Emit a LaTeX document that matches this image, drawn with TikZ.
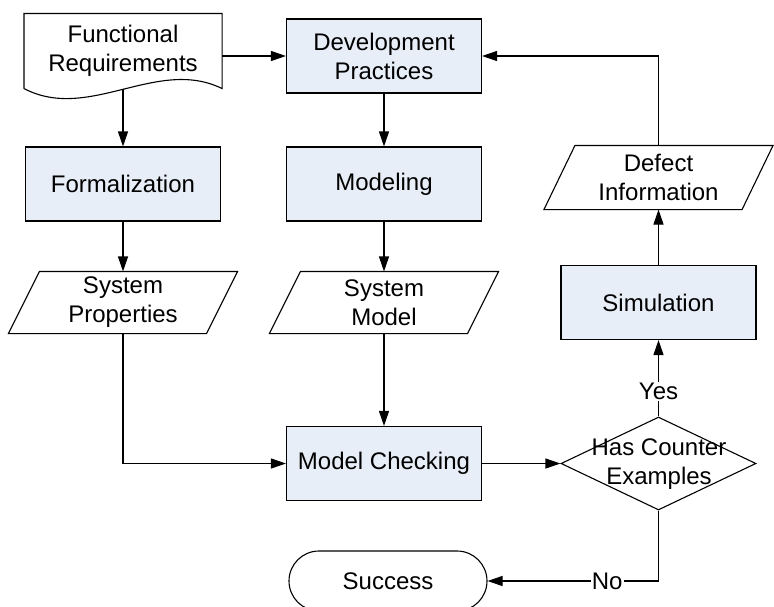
\documentclass[tikz,border=0pt]{standalone}
\usepackage{fontspec}
\setmainfont{Liberation Sans}
\usetikzlibrary{arrows.meta,shapes.geometric,shapes.misc,calc}
\definecolor{procfill}{RGB}{232,238,247}

% slanted outline (data shape) around an invisible rectangular node
\newcommand\ioslant[1]{%
  \draw ($(#1.south west)+(-15.5,0)$) -- ($(#1.south east)+(-15.5,0)$)
     -- ($(#1.north east)+(15.5,0)$) -- ($(#1.north west)+(15.5,0)$) -- cycle;}

\begin{document}
\begin{tikzpicture}[x=1pt,y=-1pt,line width=1.1pt,
  every node/.style={font=\fontsize{24}{29}\selectfont, align=center, inner sep=0pt},
  proc/.style={draw, fill=procfill, minimum width=195pt, minimum height=74pt},
  iobox/.style={minimum width=197pt, minimum height=61pt},
  flow/.style={-{Triangle[length=15pt,width=10pt]}},
  edgelabel/.style={fill=white, inner sep=1pt}]
\useasboundingbox (0,0) rectangle (774,606);
\clip (0,0) rectangle (774,606);

% document shape with wavy lower edge
\node[minimum width=197pt, minimum height=74pt] (req) at (123,51) {Functional\\Requirements};
\draw (req.south west) -- (req.north west) -- (req.north east) -- (req.south east)
  .. controls ($(req.south east)+(-65,-32)$) and ($(req.south west)+(65,34)$) .. (req.south west);

% process boxes
\node[proc] (devp)  at (384,56)     {Development\\Practices};
\node[proc] (form)  at (123,184)    {Formalization};
\node[proc] (model) at (384,184)    {Modeling};
\node[proc] (sim)   at (658.5,302.5) {Simulation};
\node[proc] (mc)    at (384,463.5)  {Model Checking};

% data shapes
\node[iobox] (prop) at (123,302.5) {System\\Properties};
\ioslant{prop}
\node[iobox] (smod) at (384,302.5) {System\\Model};
\ioslant{smod}
\node[iobox, minimum height=63pt] (defect) at (658.5,177.5) {Defect\\Information};
\ioslant{defect}

% decision
\node[draw, diamond, minimum width=195pt, minimum height=93pt] (dec) at (658.5,463.5) {};
\node (dectext) at (659,464) {Has Counter\\Examples};

% terminator
\node[draw, rounded rectangle, minimum width=198pt, minimum height=60pt] (done) at (388,581) {Success};

% connectors
\draw[flow] (req.east |- devp.west) -- (devp.west);
\draw[flow] (req.south) -- (form.north);
\draw[flow] (devp.south) -- (model.north);
\draw[flow] (form.south) -- (prop.north);
\draw[flow] (model.south) -- (smod.north);
\draw[flow] (prop.south) |- (mc.west);
\draw[flow] (smod.south) -- (mc.north);
\draw[flow] (mc.east) -- (dec.west);
\draw[flow] (dec.north) -- node[edgelabel, pos=0.33] {Yes} (sim.south);
\draw[flow] (sim.north) -- (defect.south);
\draw[flow] (defect.north) |- (devp.east);
\draw[flow] (dec.south) |- node[edgelabel, pos=0.65] {No} (done.east);
\end{tikzpicture}
\end{document}
